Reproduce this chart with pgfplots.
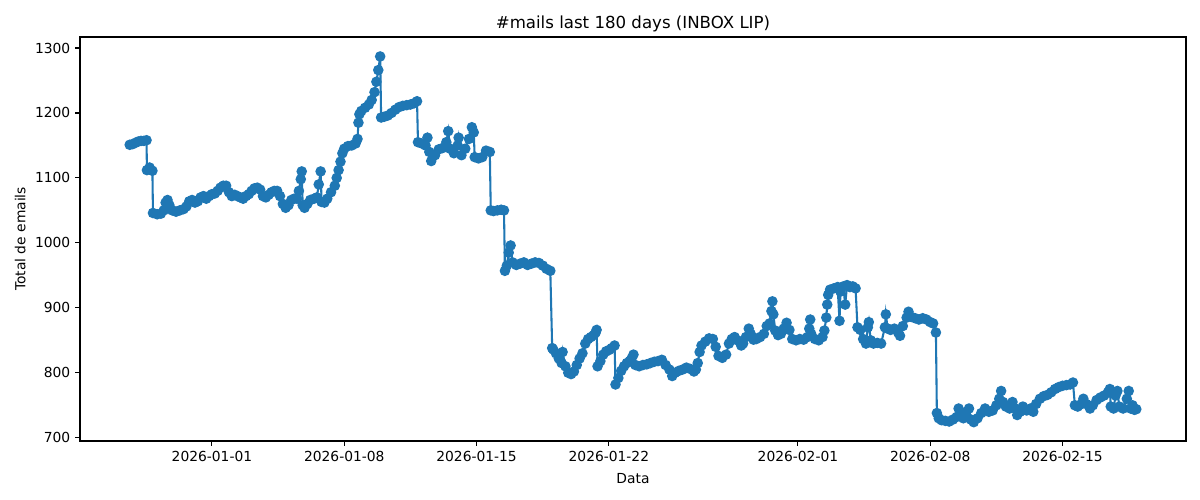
\documentclass[border=0pt]{standalone}
\usepackage{pgfplots}
\pgfplotsset{compat=1.18}
\usepackage{fontspec}
\setmainfont{DejaVu Sans}
\definecolor{mplblue}{HTML}{1F77B4}
\begin{document}
\begin{tikzpicture}
\begin{axis}[
  scale only axis,
  width=799.3pt, height=292.0pt,
  xmin=-6.98, xmax=51.53,
  ymin=695, ymax=1317,
  xtick={0,7,14,21,31,38,45},
  xticklabels={2026-01-01,2026-01-08,2026-01-15,2026-01-22,2026-02-01,2026-02-08,2026-02-15},
  ytick={700,800,900,1000,1100,1200,1300},
  /pgf/number format/assume math mode=true,
  /pgf/number format/1000 sep={},
  tick pos=left,
  tick align=outside,
  major tick length=3.5pt,
  every tick/.style={black, line width=0.8pt},
  axis line style={black, line width=0.8pt},
  tick label style={font=\fontsize{10}{12}\selectfont},
  label style={font=\fontsize{10}{12}\selectfont},
  xlabel style={yshift=-2pt},
  title style={font=\fontsize{12}{14}\selectfont, at={(0.5,1)}, anchor=base, yshift=0pt},
  title={\#mails last 180 days (INBOX LIP)},
  xlabel={Data},
  ylabel={Total de emails},
  clip=false,
]
\addplot[color=mplblue, line width=1.5pt, mark=*, mark size=3.3pt, mark options={line width=1pt, fill=mplblue, draw=mplblue}] table {
x y
-4.35 1151
-4.2 1152
-4.05 1154
-3.9 1156
-3.75 1157
-3.6 1157
-3.46 1158
-3.44 1112
-3.3 1116
-3.15 1111
-3.12 1046
-2.9 1044
-2.7 1045
-2.55 1050
-2.45 1062
-2.35 1066
-2.25 1058
-2.1 1050
-1.9 1048
-1.7 1050
-1.5 1052
-1.35 1056
-1.2 1064
-1.05 1066
-0.9 1062
-0.75 1064
-0.6 1070
-0.45 1072
-0.3 1068
-0.15 1072
0.0 1075
0.15 1076
0.3 1080
0.45 1085
0.6 1088
0.75 1088
0.9 1078
1.05 1072
1.2 1074
1.35 1072
1.5 1070
1.65 1068
1.8 1072
1.95 1075
2.1 1080
2.25 1084
2.4 1085
2.55 1082
2.7 1072
2.85 1070
3.0 1074
3.15 1078
3.3 1080
3.45 1080
3.6 1072
3.75 1060
3.9 1054
4.05 1058
4.2 1066
4.35 1068
4.5 1068
4.6 1080
4.7 1098
4.75 1110
4.8 1058
4.9 1054
5.05 1060
5.2 1066
5.4 1068
5.55 1070
5.65 1090
5.75 1110
5.8 1063
5.95 1062
6.1 1068
6.3 1078
6.5 1088
6.6 1100
6.7 1112
6.8 1125
6.9 1138
7.0 1145
7.2 1149
7.4 1150
7.6 1153
7.7 1160
7.75 1185
7.8 1198
7.9 1203
8.1 1208
8.3 1213
8.45 1220
8.6 1232
8.7 1248
8.8 1266
8.9 1287
8.95 1193
9.1 1194
9.3 1196
9.5 1200
9.7 1205
9.9 1209
10.1 1211
10.3 1212
10.5 1213
10.7 1215
10.85 1218
10.9 1155
11.1 1153
11.3 1150
11.4 1162
11.5 1140
11.6 1126
11.8 1135
12.0 1144
12.2 1146
12.4 1155
12.5 1172
12.6 1145
12.8 1138
13.0 1150
13.05 1162
13.2 1135
13.4 1145
13.6 1160
13.75 1178
13.85 1170
13.9 1132
14.1 1130
14.3 1132
14.5 1142
14.7 1140
14.75 1050
14.9 1049
15.1 1050
15.3 1051
15.45 1050
15.5 957
15.6 965
15.7 985
15.8 996
15.9 970
16.1 966
16.3 968
16.5 970
16.7 966
16.9 968
17.1 970
17.3 969
17.5 965
17.7 960
17.9 957
18.0 838
18.05 836
18.2 830
18.35 822
18.5 815
18.55 832
18.7 810
18.85 800
19.0 798
19.15 802
19.3 812
19.45 822
19.6 830
19.75 845
19.9 852
20.05 855
20.2 858
20.3 862
20.35 866
20.4 810
20.55 818
20.7 828
20.85 833
21.0 835
21.15 838
21.3 842
21.35 782
21.5 792
21.65 803
21.8 810
21.95 815
22.1 818
22.2 822
22.3 828
22.4 812
22.6 810
22.8 812
23.0 813
23.2 815
23.4 817
23.6 818
23.8 820
24.0 812
24.2 805
24.35 795
24.5 800
24.7 803
24.9 805
25.1 808
25.3 806
25.5 802
25.6 805
25.7 815
25.8 832
25.9 842
26.1 848
26.3 853
26.5 852
26.65 840
26.8 826
27.0 823
27.2 828
27.35 845
27.5 852
27.65 855
27.8 850
28.0 842
28.1 845
28.25 855
28.4 868
28.5 860
28.65 851
28.8 852
29.0 855
29.2 860
29.35 872
29.5 876
29.6 895
29.65 910
29.7 890
29.8 865
29.95 858
30.1 860
30.25 868
30.4 877
30.55 866
30.7 852
30.9 850
31.1 852
31.3 851
31.5 855
31.6 868
31.65 882
31.7 860
31.9 852
32.1 850
32.3 855
32.4 865
32.5 885
32.55 905
32.6 920
32.7 928
32.9 930
33.1 932
33.2 880
33.25 925
33.4 933
33.5 905
33.6 935
33.75 932
33.9 933
34.05 930
34.15 870
34.3 866
34.45 852
34.6 845
34.7 870
34.75 878
34.85 850
35.0 845
35.2 846
35.4 845
35.6 870
35.65 890
35.75 868
35.9 866
36.1 868
36.3 862
36.4 857
36.55 872
36.75 885
36.85 894
37.0 886
37.2 884
37.4 882
37.6 884
37.8 882
38.0 878
38.15 876
38.3 862
38.35 738
38.45 730
38.6 727
38.8 726
39.0 725
39.2 728
39.4 732
39.5 745
39.6 740
39.75 730
39.9 735
40.05 745
40.15 728
40.3 724
40.5 730
40.7 738
40.9 745
41.1 740
41.3 742
41.5 750
41.65 760
41.75 772
41.85 755
42.0 748
42.2 745
42.35 755
42.5 745
42.6 735
42.75 740
42.9 748
43.1 742
43.3 745
43.45 740
43.6 752
43.8 760
44.0 764
44.2 766
44.4 770
44.6 775
44.8 778
45.0 780
45.2 781
45.4 782
45.55 785
45.65 750
45.8 748
46.0 752
46.1 760
46.25 752
46.45 745
46.6 750
46.8 758
47.0 762
47.2 765
47.4 770
47.5 775
47.55 748
47.7 745
47.8 765
47.9 772
48.0 748
48.2 745
48.4 760
48.5 772
48.6 745
48.7 750
48.8 743
48.9 744
};
\end{axis}
\path (current axis.south west) ++(-57.82pt,-42.64pt) rectangle ++(867.24pt,361.35pt);
\end{tikzpicture}
\end{document}
